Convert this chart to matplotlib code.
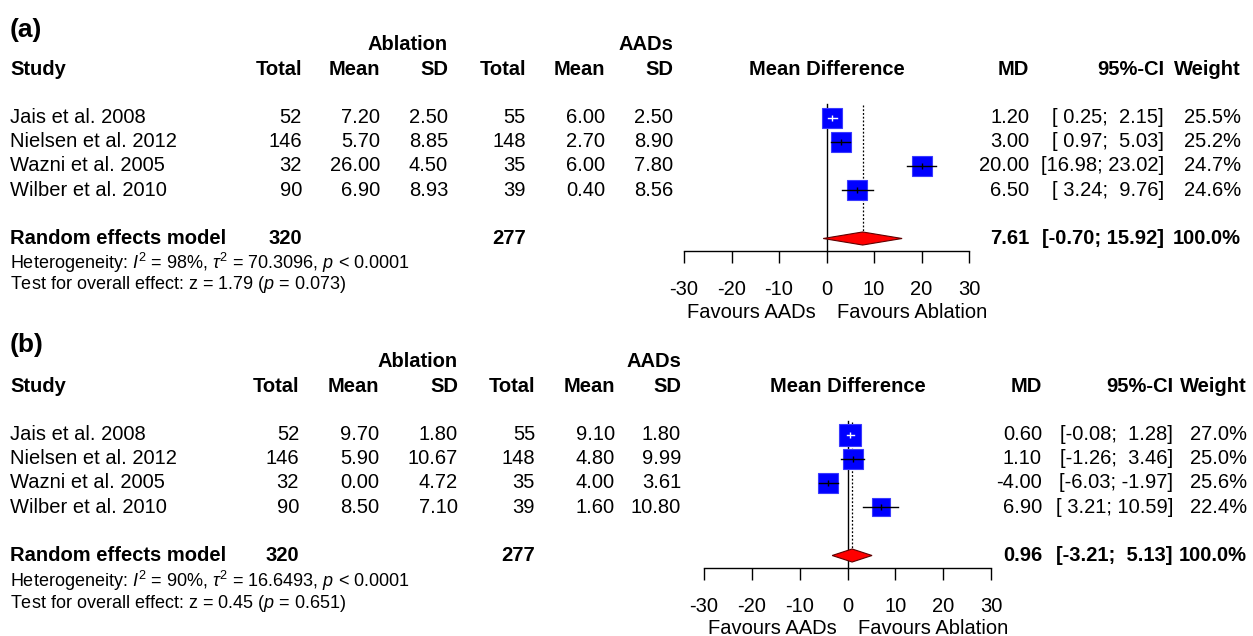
import matplotlib
matplotlib.use("Agg")
import matplotlib.pyplot as plt
import matplotlib.transforms as mtransforms

plt.rcParams['font.family'] = ['Liberation Sans', 'DejaVu Sans']
plt.rcParams['mathtext.fontset'] = 'custom'
plt.rcParams['mathtext.rm'] = 'Liberation Sans'
plt.rcParams['mathtext.it'] = 'Liberation Sans:italic'
plt.rcParams['axes.unicode_minus'] = False

# ---- data ----
studies = ["Jais et al. 2008", "Nielsen et al. 2012", "Wazni et al. 2005", "Wilber et al. 2010"]

# panel (a)
a_abl_total = [52, 146, 32, 90]
a_abl_mean = [7.20, 5.70, 26.00, 6.90]
a_abl_sd = [2.50, 8.85, 4.50, 8.93]
a_aad_total = [55, 148, 35, 39]
a_aad_mean = [6.00, 2.70, 6.00, 0.40]
a_aad_sd = [2.50, 8.90, 7.80, 8.56]
a_md = [1.20, 3.00, 20.00, 6.50]
a_lo = [0.25, 0.97, 16.98, 3.24]
a_hi = [2.15, 5.03, 23.02, 9.76]
a_weight = [25.5, 25.2, 24.7, 24.6]
a_re = [7.61, -0.70, 15.92]
a_sum_total = [320, 277]
a_het = r"Heterogeneity: $I^2$ = 98%, $\tau^2$ = 70.3096, $p$ < 0.0001"
a_test = r"Test for overall effect: z = 1.79 ($p$ = 0.073)"

# panel (b)
b_abl_total = [52, 146, 32, 90]
b_abl_mean = [9.70, 5.90, 0.00, 8.50]
b_abl_sd = [1.80, 10.67, 4.72, 7.10]
b_aad_total = [55, 148, 35, 39]
b_aad_mean = [9.10, 4.80, 4.00, 1.60]
b_aad_sd = [1.80, 9.99, 3.61, 10.80]
b_md = [0.60, 1.10, -4.00, 6.90]
b_lo = [-0.08, -1.26, -6.03, 3.21]
b_hi = [1.28, 3.46, -1.97, 10.59]
b_weight = [27.0, 25.0, 25.6, 22.4]
b_re = [0.96, -3.21, 5.13]
b_sum_total = [320, 277]
b_het = r"Heterogeneity: $I^2$ = 90%, $\tau^2$ = 16.6493, $p$ < 0.0001"
b_test = r"Test for overall effect: z = 0.45 ($p$ = 0.651)"

x_ticks = [-30, -20, -10, 0, 10, 20, 30]

W, H = 1253, 636
FS = 14.5
FS_HET = 13

fig = plt.figure(figsize=(W / 100, H / 100), dpi=100)


def forest_panel(label, layout, abl_total, abl_mean, abl_sd, aad_total, aad_mean,
                 aad_sd, md, lo, hi, weight, re, sum_total, het, test):
    xl, xr = layout['xl'], layout['xr']
    y0, dy = layout['y0'], layout['dy']
    y_axis, y_top = layout['y_axis'], layout['y_top']
    cols = layout['cols']

    ax = fig.add_axes([xl / W, 1 - y_axis / H, (xr - xl) / W, (y_axis - y_top) / H])
    ax.set_xlim(-30, 30)
    ax.set_ylim((y_axis - y0) / dy, (y_top - y0) / dy)
    for s in ['top', 'left', 'right']:
        ax.spines[s].set_visible(False)
    ax.spines['bottom'].set_linewidth(1)
    ax.set_yticks([])
    ax.set_xticks(x_ticks)
    ax.set_xticklabels([str(t) for t in x_ticks])
    ax.tick_params(axis='x', direction='out', length=8.6, width=1, labelsize=FS, pad=12.5)
    ax.patch.set_visible(False)

    rows = list(range(len(studies)))
    re_row = len(studies) + 1
    px_per_unit = (xr - xl) / 60.0

    # line of no effect and dotted line at the pooled estimate
    ax.plot([0, 0], [-0.55, (y_axis - y0) / dy], color='black', lw=1, clip_on=False)
    ax.plot([re[0], re[0]], [-0.5, re_row - 0.27], color='black', lw=0.9,
            ls=(0, (1.5, 1.5)), zorder=1)

    # study squares and CIs (CI drawn white when it sits well inside the square)
    for i in rows:
        side_px = 0.8 * weight[i]
        half = 0.9 * side_px / 2 / px_per_unit
        inside = (md[i] - lo[i] < half) and (hi[i] - md[i] < half)
        ax.plot(md[i], i, marker='s', markersize=side_px * 0.72, color='#0000ff',
                markeredgecolor='#3a3aff', markeredgewidth=0.8, zorder=2, clip_on=False)
        lc = 'white' if inside else 'black'
        ax.plot([lo[i], hi[i]], [i, i], color=lc, lw=1, zorder=3)
        ax.plot(md[i], i, marker='|', markersize=5, color=lc, mew=1, zorder=3)

    # pooled estimate diamond
    ax.fill([re[1], re[0], re[2], re[0]],
            [re_row, re_row - 0.27, re_row, re_row + 0.27],
            facecolor='#ff0000', edgecolor='#600000', lw=0.8, zorder=4, clip_on=False)

    fy = (y_axis - y0) / dy + 61 / dy
    ax.text(-2.2, fy, "Favours AADs", ha='right', va='center', fontsize=FS, clip_on=False)
    ax.text(2.2, fy, "Favours Ablation", ha='left', va='center', fontsize=FS, clip_on=False)
    ax.text(0, -2.0, "Mean Difference", ha='center', va='center', fontsize=FS,
            fontweight='bold', clip_on=False)

    # table text: x in figure pixels, y in row units
    tr = mtransforms.blended_transform_factory(fig.transFigure, ax.transData)

    def txt(xpx, y, s, ha='right', bold=False, size=FS):
        fig.text(xpx / W, y, s, transform=tr, ha=ha, va='center', fontsize=size,
                 fontweight='bold' if bold else 'normal')

    txt(10, layout['lab_y'], label, ha='left', bold=True, size=19)
    txt(cols['sd1'], -3.0, "Ablation", bold=True)
    txt(cols['sd2'], -3.0, "AADs", bold=True)
    headers = [('tot1', 'Total'), ('mean1', 'Mean'), ('sd1', 'SD'), ('tot2', 'Total'),
               ('mean2', 'Mean'), ('sd2', 'SD'), ('md', 'MD'), ('ci', '95%-CI'),
               ('w', 'Weight')]
    txt(10, -2.0, "Study", ha='left', bold=True)
    for key, h in headers:
        txt(cols[key], -2.0, h, bold=True)

    for i in rows:
        txt(10, i, studies[i], ha='left')
        txt(cols['tot1'], i, f"{abl_total[i]}")
        txt(cols['mean1'], i, f"{abl_mean[i]:.2f}")
        txt(cols['sd1'], i, f"{abl_sd[i]:.2f}")
        txt(cols['tot2'], i, f"{aad_total[i]}")
        txt(cols['mean2'], i, f"{aad_mean[i]:.2f}")
        txt(cols['sd2'], i, f"{aad_sd[i]:.2f}")
        txt(cols['md'], i, f"{md[i]:.2f}")
        txt(cols['ci'], i, f"[{lo[i]:5.2f}; {hi[i]:5.2f}]")
        txt(cols['w'], i, f"{weight[i]:.1f}%")

    txt(10, re_row, "Random effects model", ha='left', bold=True)
    txt(cols['tot1'], re_row, f"{sum_total[0]}", bold=True)
    txt(cols['tot2'], re_row, f"{sum_total[1]}", bold=True)
    txt(cols['md'], re_row, f"{re[0]:.2f}", bold=True)
    txt(cols['ci'], re_row, f"[{re[1]:5.2f}; {re[2]:5.2f}]", bold=True)
    txt(cols['w'], re_row, "100.0%", bold=True)

    txt(10, layout['het_y'], het, ha='left', size=FS_HET)
    txt(10, layout['het_y'] + 0.92, test, ha='left', size=FS_HET)
    return ax


layout_a = dict(xl=684, xr=969, y0=117.5, dy=24.2, y_axis=251, y_top=103,
                lab_y=-3.6, het_y=6.0,
                cols=dict(tot1=302, mean1=380, sd1=448, tot2=526, mean2=605, sd2=673,
                          md=1029, ci=1164, w=1241))
layout_b = dict(xl=704, xr=991, y0=434.5, dy=24.2, y_axis=568, y_top=420,
                lab_y=-3.7, het_y=6.05,
                cols=dict(tot1=299, mean1=379, sd1=458, tot2=535, mean2=615, sd2=681,
                          md=1042, ci=1173, w=1247))

forest_panel("(a)", layout_a, a_abl_total, a_abl_mean, a_abl_sd, a_aad_total, a_aad_mean,
             a_aad_sd, a_md, a_lo, a_hi, a_weight, a_re, a_sum_total, a_het, a_test)
forest_panel("(b)", layout_b, b_abl_total, b_abl_mean, b_abl_sd, b_aad_total, b_aad_mean,
             b_aad_sd, b_md, b_lo, b_hi, b_weight, b_re, b_sum_total, b_het, b_test)

fig.savefig("out.png", dpi=100, facecolor='white')
